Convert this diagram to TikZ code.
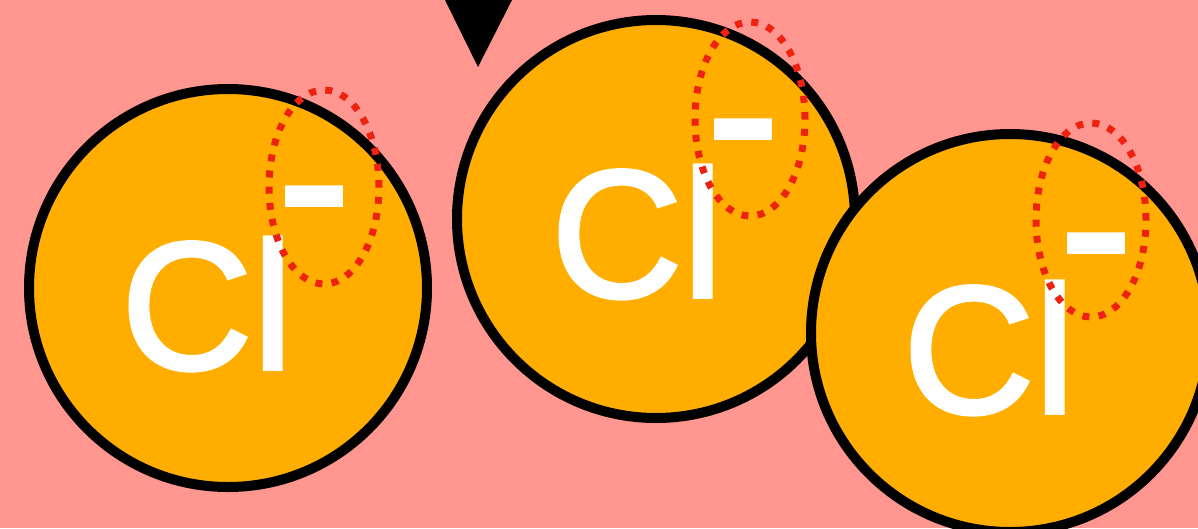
\documentclass[tikz,border=0pt]{standalone}
\usepackage{fontspec}
\setmainfont{Liberation Sans}
\newfontfamily\ionfont{Liberation Sans}[FakeBold=2]
\usetikzlibrary{shapes.geometric}
\definecolor{saltbg}{RGB}{255,150,143}
\definecolor{ionfill}{RGB}{255,174,0}
\definecolor{shelldot}{RGB}{238,34,17}

\begin{document}
\begin{tikzpicture}[x=1pt,y=-1pt,
        ion/.style={circle,draw=black,fill=ionfill,line width=10pt,
                    minimum size=398pt,inner sep=0pt},
        symbol/.style={anchor=base,text=white,inner sep=0pt,
                       font=\ionfont\fontsize{182}{182}\selectfont},
        charge/.style={anchor=base,text=white,inner sep=0pt,
                       font=\ionfont\fontsize{218}{218}\selectfont},
        shell/.style={ellipse,draw=shelldot,line width=7pt,
                      dash pattern=on 7pt off 9.2pt,minimum width=110pt,
                      minimum height=194pt,inner sep=0pt}]
        \useasboundingbox (0,0) rectangle (1198,528);
        \clip (0,0) rectangle (1198,528);
        \fill[saltbg] (0,0) rectangle (1198,528);

        \node[ion] (ionA) at (228,288) {};
        \node[symbol] (clA) at (207,369) {Cl};
        \node[charge] (minusA) at (314,254) {-};

        \node[ion] (ionB) at (656,219) {};
        \node[symbol] (clB) at (637,297) {Cl};
        \node[charge] (minusB) at (743,187) {-};

        \node[ion] (ionC) at (1010,333) {};
        \node[symbol] (clC) at (989,413) {Cl};
        \node[charge] (minusC) at (1096,301) {-};

        \node[shell] (shellA) at (324,187) {};
        \node[shell] (shellB) at (750,119) {};
        \node[shell] (shellC) at (1091,220) {};

        \coordinate (tip) at (478,67);
        \fill[black] (445,0) -- (512,0) -- (tip) -- cycle;
    \end{tikzpicture}
\end{document}
